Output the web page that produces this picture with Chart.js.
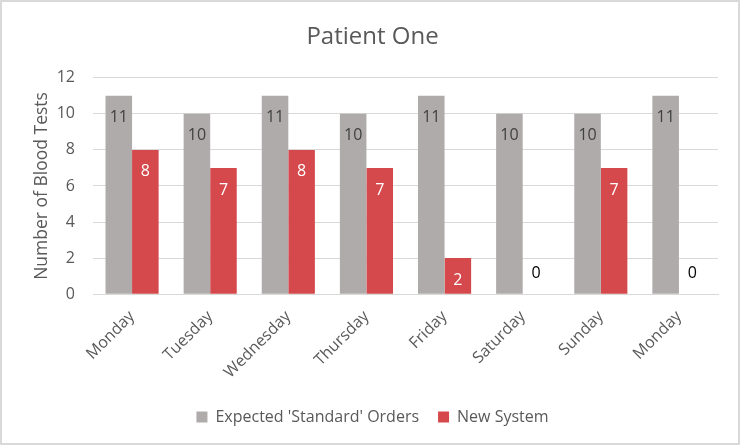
<!DOCTYPE html>
<html>
<head>
<meta charset="utf-8">
<script src="https://cdn.jsdelivr.net/npm/chart.js@4/dist/chart.umd.min.js"></script>
<style>
  html, body { margin: 0; padding: 0; background: #fff; }
  #wrap { width: 740px; height: 445px; position: relative; }
</style>
</head>
<body>
<div id="wrap"><canvas id="c" width="740" height="445"></canvas></div>
<script>
const categories = ['Monday', 'Tuesday', 'Wednesday', 'Thursday', 'Friday', 'Saturday', 'Sunday', 'Monday'];
const expectedOrders = [11, 10, 11, 10, 11, 10, 10, 11];
const newSystem = [8, 7, 8, 7, 2, 0, 7, 0];
const yTicks = [0, 2, 4, 6, 8, 10, 12];
const yTitle = 'Number of Blood Tests';

const FONT = "'Open Sans', 'DejaVu Sans', sans-serif";
const TEXT = '#595959';

const borderPlugin = {
  id: 'chartBorder',
  afterDraw(chart) {
    const ctx = chart.ctx;
    ctx.save();
    ctx.strokeStyle = '#D9D9D9';
    ctx.lineWidth = 2;
    ctx.strokeRect(1, 1, chart.width - 2, chart.height - 2);
    ctx.restore();
  }
};

const yTitlePlugin = {
  id: 'yTitle',
  afterDraw(chart) {
    const ctx = chart.ctx;
    const a = chart.chartArea;
    ctx.save();
    ctx.translate(42, (a.top + a.bottom) / 2);
    ctx.rotate(-Math.PI / 2);
    ctx.font = "17.5px " + FONT;
    ctx.fillStyle = TEXT;
    ctx.textAlign = 'center';
    ctx.textBaseline = 'middle';
    ctx.fillText(yTitle, 0, 0);
    ctx.restore();
  }
};

const labelPlugin = {
  id: 'barLabels',
  afterDatasetsDraw(chart) {
    const ctx = chart.ctx;
    ctx.save();
    ctx.font = "16px " + FONT;
    ctx.textAlign = 'center';
    ctx.textBaseline = 'middle';
    chart.data.datasets.forEach((ds, di) => {
      const meta = chart.getDatasetMeta(di);
      meta.data.forEach((bar, i) => {
        const v = ds.data[i];
        let y, color;
        if (v === 0) {
          y = bar.base - 21;
          color = '#000000';
        } else {
          y = bar.y + 22;
          color = di === 0 ? '#404040' : '#FFFFFF';
        }
        ctx.fillStyle = color;
        ctx.fillText(String(v), bar.x, y);
      });
    });
    ctx.restore();
  }
};

new Chart(document.getElementById('c'), {
  type: 'bar',
  data: {
    labels: categories,
    datasets: [
      {
        label: "Expected 'Standard' Orders",
        data: expectedOrders,
        backgroundColor: '#AFABAB',
        barPercentage: 1.0,
        categoryPercentage: 0.68
      },
      {
        label: 'New System',
        data: newSystem,
        backgroundColor: '#D5484B',
        barPercentage: 1.0,
        categoryPercentage: 0.68
      }
    ]
  },
  options: {
    responsive: false,
    animation: false,
    layout: { padding: { left: 27, right: 22, top: 10, bottom: 10 } },
    plugins: {
      title: {
        display: true,
        text: 'Patient One',
        color: TEXT,
        font: { family: FONT, size: 24, weight: 'normal' },
        padding: { top: 13, bottom: 26 }
      },
      legend: {
        position: 'bottom',
        labels: {
          color: TEXT,
          font: { family: FONT, size: 16 },
          boxWidth: 11,
          boxHeight: 11,
          padding: 19
        }
      },
      tooltip: { enabled: false }
    },
    scales: {
      x: {
        grid: { display: false, drawTicks: false },
        border: { display: true, color: '#D9D9D9' },
        afterFit(scale) {
          scale.height = scale.height - 5;
        },
        ticks: {
          color: TEXT,
          font: { family: FONT, size: 16 },
          minRotation: 45,
          maxRotation: 45,
          padding: 13
        }
      },
      y: {
        min: 0,
        max: 12,
        afterBuildTicks(scale) {
          scale.ticks = yTicks.map(v => ({ value: v }));
        },
        afterFit(scale) {
          scale.width = 66;
        },
        grid: { color: '#D9D9D9', drawTicks: false },
        border: { display: false },
        ticks: {
          color: TEXT,
          font: { family: FONT, size: 16 },
          padding: 18
        }
      }
    }
  },
  plugins: [borderPlugin, labelPlugin, yTitlePlugin]
});
</script>
</body>
</html>
